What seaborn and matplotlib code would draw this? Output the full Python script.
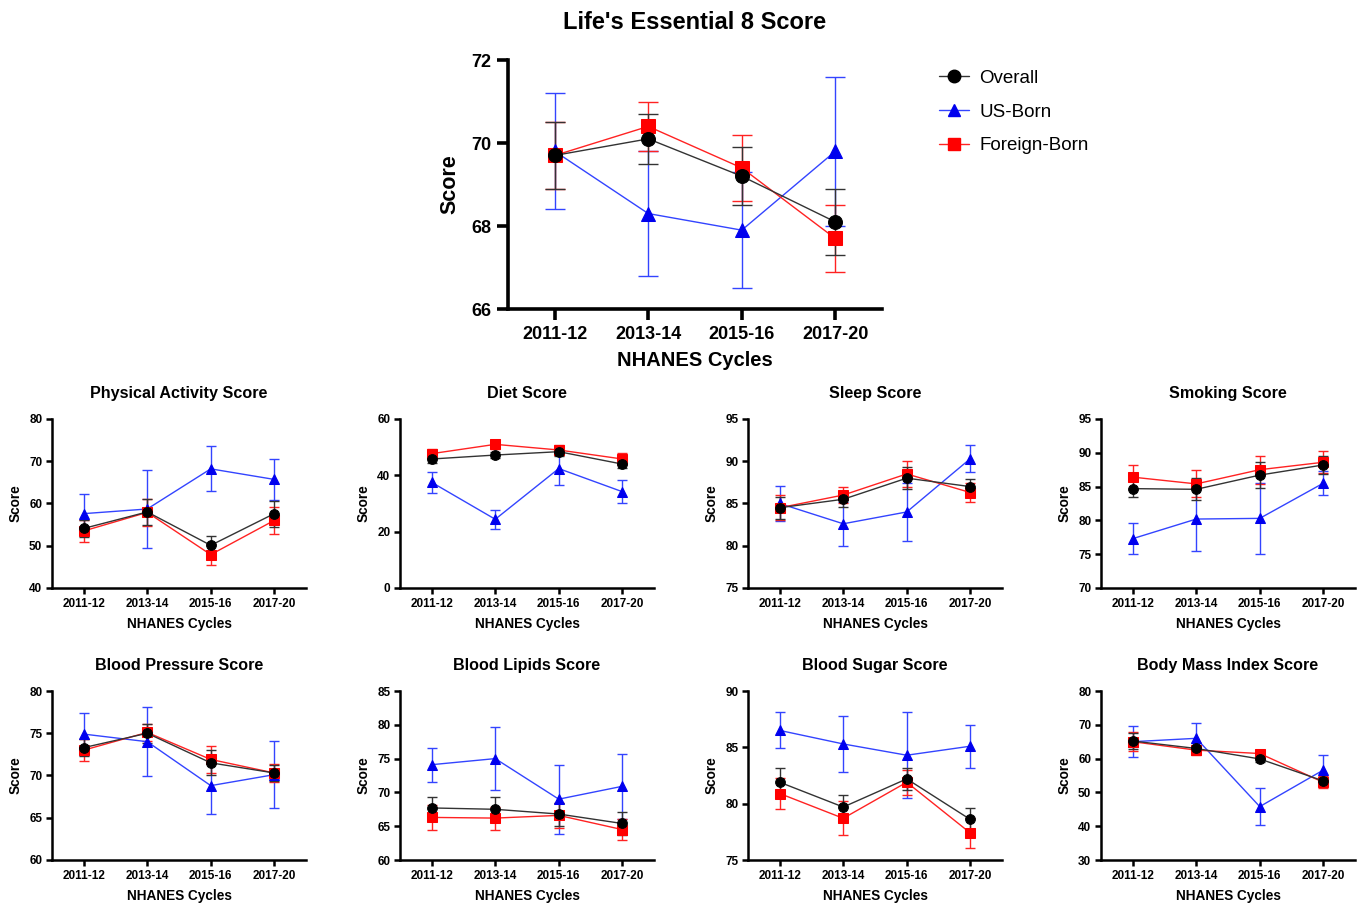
import numpy as np
import pandas as pd
import matplotlib
matplotlib.use("Agg")
import matplotlib.pyplot as plt
from matplotlib.lines import Line2D
import seaborn as sns

cycles = ["2011-12", "2013-14", "2015-16", "2017-20"]
series_names = ["Overall", "US-Born", "Foreign-Born"]

# Life's Essential 8 (main)
le8_overall = [69.7, 70.1, 69.2, 68.1]
le8_overall_err = [0.8, 0.6, 0.7, 0.8]
le8_us = [69.8, 68.3, 67.9, 69.8]
le8_us_err = [1.4, 1.5, 1.4, 1.8]
le8_fb = [69.7, 70.4, 69.4, 67.7]
le8_fb_err = [0.8, 0.6, 0.8, 0.8]

# Physical activity
pa_overall = [54.1, 58.0, 50.1, 57.6]
pa_overall_err = [2.1, 3.0, 2.1, 3.1]
pa_us = [57.6, 58.7, 68.2, 65.7]
pa_us_err = [4.6, 9.2, 5.3, 4.9]
pa_fb = [53.5, 57.9, 47.9, 56.0]
pa_fb_err = [2.7, 3.2, 2.4, 3.2]

# Diet
diet_overall = [45.8, 47.2, 48.4, 44.0]
diet_overall_err = [1.5, 1.0, 1.4, 1.5]
diet_us = [37.5, 24.4, 42.4, 34.2]
diet_us_err = [3.7, 3.3, 5.9, 4.2]
diet_fb = [47.7, 51.0, 49.0, 45.8]
diet_fb_err = [1.7, 1.5, 1.8, 2.0]

# Sleep
sleep_overall = [84.5, 85.5, 88.0, 87.0]
sleep_overall_err = [1.3, 0.9, 1.3, 0.9]
sleep_us = [85.0, 82.6, 84.0, 90.3]
sleep_us_err = [2.1, 2.6, 3.4, 1.6]
sleep_fb = [84.5, 86.0, 88.5, 86.3]
sleep_fb_err = [1.5, 1.0, 1.5, 1.1]

# Smoking
smoke_overall = [84.7, 84.6, 86.7, 88.2]
smoke_overall_err = [1.3, 1.6, 1.9, 1.4]
smoke_us = [77.3, 80.2, 80.3, 85.5]
smoke_us_err = [2.3, 4.7, 5.3, 1.8]
smoke_fb = [86.4, 85.4, 87.5, 88.6]
smoke_fb_err = [1.8, 2.0, 2.1, 1.6]

# Blood pressure
bp_overall = [73.3, 75.0, 71.5, 70.3]
bp_overall_err = [1.0, 1.1, 1.5, 1.0]
bp_us = [74.9, 74.0, 68.8, 70.1]
bp_us_err = [2.5, 4.1, 3.3, 4.0]
bp_fb = [73.0, 75.1, 71.9, 70.3]
bp_fb_err = [1.3, 1.0, 1.6, 1.1]

# Blood lipids
lip_overall = [67.7, 67.5, 66.8, 65.4]
lip_overall_err = [1.6, 1.8, 1.7, 1.7]
lip_us = [74.1, 75.0, 69.0, 70.9]
lip_us_err = [2.5, 4.7, 5.1, 4.8]
lip_fb = [66.3, 66.2, 66.6, 64.5]
lip_fb_err = [1.8, 1.7, 1.8, 1.5]

# Blood sugar
sug_overall = [81.9, 79.7, 82.2, 78.6]
sug_overall_err = [1.3, 1.1, 1.0, 1.0]
sug_us = [86.5, 85.3, 84.3, 85.1]
sug_us_err = [1.6, 2.5, 3.8, 1.9]
sug_fb = [80.9, 78.7, 81.9, 77.4]
sug_fb_err = [1.4, 1.5, 1.1, 1.3]

# Body mass index
bmi_overall = [65.2, 63.0, 59.9, 53.4]
bmi_overall_err = [2.5, 1.5, 1.0, 1.2]
bmi_us = [65.0, 66.0, 45.8, 56.6]
bmi_us_err = [4.6, 4.5, 5.5, 4.6]
bmi_fb = [65.0, 62.5, 61.5, 53.0]
bmi_fb_err = [2.8, 1.3, 1.1, 1.8]

sns.set_theme(style="ticks")
plt.rcParams['font.family'] = ['Liberation Sans', 'DejaVu Sans']
plt.rcParams['font.weight'] = 'bold'
plt.rcParams['text.color'] = 'black'
plt.rcParams['axes.labelcolor'] = 'black'
plt.rcParams['xtick.color'] = 'black'
plt.rcParams['ytick.color'] = 'black'

COL = {"Overall": "black", "US-Born": "#0000EE", "Foreign-Born": "#FF0000"}
LINECOL = {"Overall": "#333333", "US-Born": "#3344FF", "Foreign-Born": "#FF2222"}
MARK = {"Overall": "o", "US-Born": "^", "Foreign-Born": "s"}

fig = plt.figure(figsize=(13.59, 9.05), dpi=100)


def draw_panel(ax, overall, overall_err, us, us_err, fb, fb_err, title, ylim, yticks,
               big=False):
    xpos = np.arange(len(cycles))
    data = {"Overall": (overall, overall_err), "US-Born": (us, us_err),
            "Foreign-Born": (fb, fb_err)}
    ms = 10 if big else 7
    cap = 7 if big else 3.5
    lw_spine = 2.6 if big else 1.8
    for name in ["US-Born", "Foreign-Born", "Overall"]:
        m, e = data[name]
        df = pd.DataFrame({"x": xpos, "y": m})
        ax.errorbar(xpos, m, yerr=e, fmt="none", ecolor=LINECOL[name],
                    elinewidth=1.0, capsize=cap, capthick=1.0, zorder=2)
        sns.lineplot(data=df, x="x", y="y", ax=ax, color=LINECOL[name],
                     linewidth=1.0, marker=MARK[name], markersize=ms,
                     markerfacecolor=COL[name], markeredgecolor=COL[name],
                     legend=False, zorder=3)
    ax.set_xlim(-0.5, len(cycles) - 0.5)
    ax.set_ylim(*ylim)
    ax.set_yticks(yticks)
    ax.set_xticks(xpos)
    ax.set_xticklabels(cycles)
    sns.despine(ax=ax)
    for s in ["left", "bottom"]:
        ax.spines[s].set_linewidth(lw_spine)
        ax.spines[s].set_color("black")
    if big:
        ax.tick_params(axis="both", length=8, width=2.6, labelsize=13, pad=4,
                       colors="black")
        ax.set_xlabel("NHANES Cycles", fontsize=14.5, fontweight="bold", labelpad=6)
        ax.set_ylabel("Score", fontsize=15.5, fontweight="bold", labelpad=8)
        ax.set_title(title, fontsize=17, fontweight="bold", pad=22)
    else:
        ax.tick_params(axis="both", length=4, width=1.8, labelsize=8.5, pad=3,
                       colors="black")
        ax.set_xlabel("NHANES Cycles", fontsize=9.8, fontweight="bold", labelpad=5)
        ax.set_ylabel("Score", fontsize=9.8, fontweight="bold", labelpad=5)
        ax.set_title(title, fontsize=11.6, fontweight="bold", pad=15)
    for lab in ax.get_xticklabels() + ax.get_yticklabels():
        lab.set_fontweight("bold")


W, H = 1359.0, 905.0
ax_main = fig.add_axes([508 / W, 1 - 309 / H, 374 / W, 249 / H])
draw_panel(ax_main, le8_overall, le8_overall_err, le8_us, le8_us_err, le8_fb, le8_fb_err,
           "Life's Essential 8 Score", (66, 72), [66, 68, 70, 72], big=True)

small = [
    ("Physical Activity Score", pa_overall, pa_overall_err, pa_us, pa_us_err, pa_fb, pa_fb_err, (40, 80), [40, 50, 60, 70, 80]),
    ("Diet Score", diet_overall, diet_overall_err, diet_us, diet_us_err, diet_fb, diet_fb_err, (0, 60), [0, 20, 40, 60]),
    ("Sleep Score", sleep_overall, sleep_overall_err, sleep_us, sleep_us_err, sleep_fb, sleep_fb_err, (75, 95), [75, 80, 85, 90, 95]),
    ("Smoking Score", smoke_overall, smoke_overall_err, smoke_us, smoke_us_err, smoke_fb, smoke_fb_err, (70, 95), [70, 75, 80, 85, 90, 95]),
    ("Blood Pressure Score", bp_overall, bp_overall_err, bp_us, bp_us_err, bp_fb, bp_fb_err, (60, 80), [60, 65, 70, 75, 80]),
    ("Blood Lipids Score", lip_overall, lip_overall_err, lip_us, lip_us_err, lip_fb, lip_fb_err, (60, 85), [60, 65, 70, 75, 80, 85]),
    ("Blood Sugar Score", sug_overall, sug_overall_err, sug_us, sug_us_err, sug_fb, sug_fb_err, (75, 90), [75, 80, 85, 90]),
    ("Body Mass Index Score", bmi_overall, bmi_overall_err, bmi_us, bmi_us_err, bmi_fb, bmi_fb_err, (30, 80), [30, 40, 50, 60, 70, 80]),
]
lefts = [52, 400, 748, 1101]
tops = [419, 691]
pw, ph = 254, 169
for i, (title, o, oe, u, ue, f, fe, yl, yt) in enumerate(small):
    r, c = divmod(i, 4)
    ax = fig.add_axes([lefts[c] / W, 1 - (tops[r] + ph) / H, pw / W, ph / H])
    draw_panel(ax, o, oe, u, ue, f, fe, title, yl, yt)

handles = [Line2D([0], [0], color=LINECOL[n], lw=1.0, marker=MARK[n], markersize=9,
                  markerfacecolor=COL[n], markeredgecolor=COL[n]) for n in series_names]
leg = fig.legend(handles, series_names, loc="upper left", bbox_to_anchor=(922 / W, 1 - 53 / H),
                 frameon=False, handlelength=1.6, handletextpad=0.55, labelspacing=0.88,
                 prop={"family": "Liberation Sans", "size": 13.5, "weight": "normal"})

fig.savefig("out.png", dpi=100)
